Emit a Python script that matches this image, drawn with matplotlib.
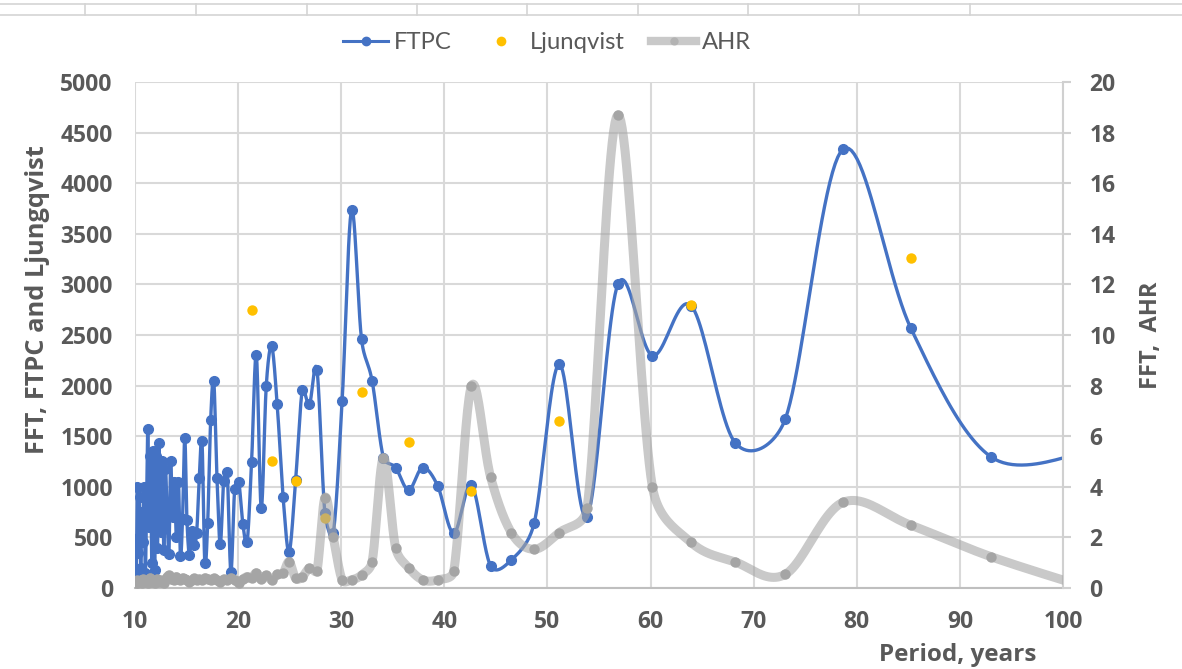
import numpy as np
import matplotlib
matplotlib.use("Agg")
import matplotlib.pyplot as plt
from matplotlib.lines import Line2D

# period (years) of each spectral line
period = [10.03, 10.13, 10.23, 10.33, 10.44, 10.55, 10.66, 10.77, 10.88, 11.00,
          11.12, 11.24, 11.37, 11.49, 11.63, 11.76, 11.90, 12.04, 12.18, 12.33,
          12.48, 12.63, 12.79, 12.95, 13.12, 13.29, 13.46, 13.64, 13.82, 14.01,
          14.21, 14.41, 14.61, 14.83, 15.04, 15.27, 15.50, 15.74, 15.98, 16.24,
          16.50, 16.77, 17.05, 17.34, 17.64, 17.95, 18.27, 18.60, 18.94, 19.30,
          19.67, 20.06, 20.46, 20.88, 21.31, 21.77, 22.24, 22.73, 23.25, 23.79,
          24.36, 24.95, 25.58, 26.23, 26.92, 27.65, 28.42, 29.23, 30.09, 31.00,
          31.97, 33.00, 34.10, 35.28, 36.54, 37.89, 39.35, 40.92, 42.63, 44.48,
          46.50, 48.71, 51.15, 53.84, 56.83, 60.18, 63.94, 68.20, 73.07, 78.69,
          85.25, 93.00, 102.30]

ftpc = [480, 150, 1000, 350, 900, 200, 750, 450, 1000, 150,
        800, 1570, 600, 1300, 250, 1350, 180, 1300, 400, 1430,
        550, 1250, 380, 1180, 700, 340, 1250, 700, 1050, 500,
        1050, 320, 680, 1480, 670, 330, 560, 420, 540, 1090,
        1450, 250, 640, 1660, 2050, 1090, 430, 1060, 1150, 160,
        980, 1050, 632, 458, 1248, 2302, 794, 1996, 2391, 1815,
        902, 359, 1067, 1956, 1815, 2154, 738, 540, 1848, 3735,
        2460, 2045, 1288, 1189, 968, 1189, 1011, 540, 1018, 221,
        277, 639, 2213, 705, 3001, 2296, 2790, 1436, 1670, 4338,
        2566, 1297, 1340]

ahr = [0.25, 0.2, 0.3, 0.18, 0.25, 0.3, 0.2, 0.35, 0.22, 0.3,
       0.25, 0.2, 0.3, 0.4, 0.25, 0.3, 0.2, 0.28, 0.35, 0.22,
       0.3, 0.25, 0.2, 0.3, 0.45, 0.5, 0.35, 0.4, 0.3, 0.45,
       0.35, 0.3, 0.4, 0.35, 0.3, 0.25, 0.3, 0.38, 0.3, 0.35,
       0.3, 0.4, 0.35, 0.3, 0.38, 0.3, 0.25, 0.35, 0.3, 0.4,
       0.3, 0.2, 0.35, 0.45, 0.4, 0.6, 0.35, 0.5, 0.32, 0.54,
       0.58, 1.04, 0.38, 0.45, 0.78, 0.68, 3.57, 2.0, 0.32, 0.32,
       0.51, 1.04, 5.15, 1.59, 0.8, 0.32, 0.32, 0.68, 7.98, 4.4,
       2.19, 1.53, 2.19, 3.15, 18.7, 4.0, 1.8, 1.03, 0.54, 3.39,
       2.48, 1.24, 0.02]

ljung_period = [21.31, 23.25, 25.58, 28.42, 31.97, 36.54, 42.63, 51.15, 63.94, 85.25]
ljung = [2747, 1258, 1060, 689, 1940, 1440, 958, 1653, 2796, 3264]

BLUE = "#4472C4"
GOLD = "#FFC000"
GREY = "#A5A5A5"
TXT = "#595959"
GRID = "#d9d9d9"


def smooth(x, y, sx, sy, cap=0.5, n=24):
    # Excel-like smoothed line: Catmull-Rom bezier handles (1/6 of the chord),
    # worked out in screen units and capped against the segment length
    P = np.column_stack([np.asarray(x, float) * sx, np.asarray(y, float) * sy])
    m = len(P)
    t = np.linspace(0, 1, n)[:, None]
    out = []
    for i in range(m - 1):
        p0, p3 = P[i], P[i + 1]
        L = np.hypot(*(p3 - p0))
        h1 = (P[i + 1] - P[max(i - 1, 0)]) / 6
        h2 = (P[min(i + 2, m - 1)] - P[i]) / 6
        for h in (h1, h2):
            ln = np.hypot(*h)
            if ln > cap * L:
                h *= cap * L / ln
        c1 = p0 + h1
        c2 = p3 - h2
        out.append((1 - t) ** 3 * p0 + 3 * (1 - t) ** 2 * t * c1 + 3 * (1 - t) * t ** 2 * c2 + t ** 3 * p3)
    out = np.vstack(out)
    return out[:, 0] / sx, out[:, 1] / sy


plt.rcParams['font.family'] = ['Open Sans', 'DejaVu Sans']

fig = plt.figure(figsize=(11.82, 6.69), dpi=100)
ax = fig.add_axes([0.1142, 0.1211, 0.7851, 0.7563])
ax2 = ax.twinx()

XS = 10.31      # px per year
ax.plot(*smooth(period, ftpc, XS, 0.1012), color=BLUE, lw=2.4, zorder=3, solid_capstyle='round')
ax.plot(period, ftpc, 'o', color=BLUE, ms=7, zorder=4)
ax.plot(ljung_period, ljung, 'o', color=GOLD, ms=7.5, zorder=5, mec='none')

ax2.plot(*smooth(period, ahr, XS, 25.3), color=GREY, alpha=0.6, lw=6.5, zorder=3, solid_capstyle='round')
ax2.plot(period, ahr, 'o', color=GREY, ms=7.5, zorder=4, mec='none')

ax.set_xlim(10, 100)
ax.set_ylim(0, 5000)
ax2.set_ylim(0, 20)
ax.set_xticks(range(10, 101, 10))
ax.set_yticks(range(0, 5001, 500))
ax2.set_yticks(range(0, 21, 2))

ax.grid(True, color=GRID, lw=1.5)
ax.set_axisbelow(True)
for s in ['left', 'top', 'right']:
    ax.spines[s].set_visible(False)
ax.spines['bottom'].set_color('#bfbfbf')
ax.spines['bottom'].set_linewidth(1.5)
for s in ['left', 'top', 'bottom']:
    ax2.spines[s].set_visible(False)
ax2.spines['right'].set_color('#d0d0d0')
ax2.spines['right'].set_linewidth(1.5)

tk = dict(labelsize=16.5, labelcolor=TXT)
ax.tick_params(axis='y', length=0, pad=16, **tk)
ax.tick_params(axis='x', length=0, pad=16, **tk)
ax2.tick_params(axis='y', length=6, width=1.5, color='#d0d0d0', pad=13, **tk)
for lab in ax.get_xticklabels() + ax.get_yticklabels() + ax2.get_yticklabels():
    lab.set_fontweight('bold')

fig.text(0.032, 0.5516, "FFT, FTPC and Ljungqvist", rotation=90, ha='center', va='center',
         fontsize=18.3, fontweight='bold', color=TXT)
fig.text(0.9738, 0.4993, "FFT,  AHR", rotation=90, ha='center', va='center',
         fontsize=17, fontweight='bold', color=TXT)
fig.text(0.8105, 0.0209, "Period, years", ha='center', va='center',
         fontsize=17.5, fontweight='bold', color=TXT)

handles = [Line2D([], [], color=BLUE, lw=2.2, marker='o', ms=6),
           Line2D([], [], color=GOLD, lw=0, marker='o', ms=7, mec='none'),
           Line2D([], [], color=GREY, lw=6, alpha=0.6, marker='o', ms=6, mfc=GREY, mec='none')]
fig.legend(handles, ["FTPC", "Ljunqvist", "AHR"], loc='center', bbox_to_anchor=(0.463, 0.936),
           ncol=3, frameon=False, labelcolor=TXT, handlelength=1.9,
           handletextpad=0.25, columnspacing=1.1, prop={'family': ['Lato', 'DejaVu Sans'], 'size': 17.2})

# spreadsheet cell borders visible above the chart
for yy in (1 - 4 / 669, 1 - 15 / 669):
    fig.add_artist(Line2D([0, 1], [yy, yy], color='#d4d4d4', lw=1.2, transform=fig.transFigure))
for xx in (85, 196, 307, 417, 527, 638, 748, 859, 970):
    fig.add_artist(Line2D([xx / 1182, xx / 1182], [1 - 15 / 669, 1 - 4 / 669], color='#d4d4d4',
                          lw=1.2, transform=fig.transFigure))

fig.savefig("out.png", dpi=100)
